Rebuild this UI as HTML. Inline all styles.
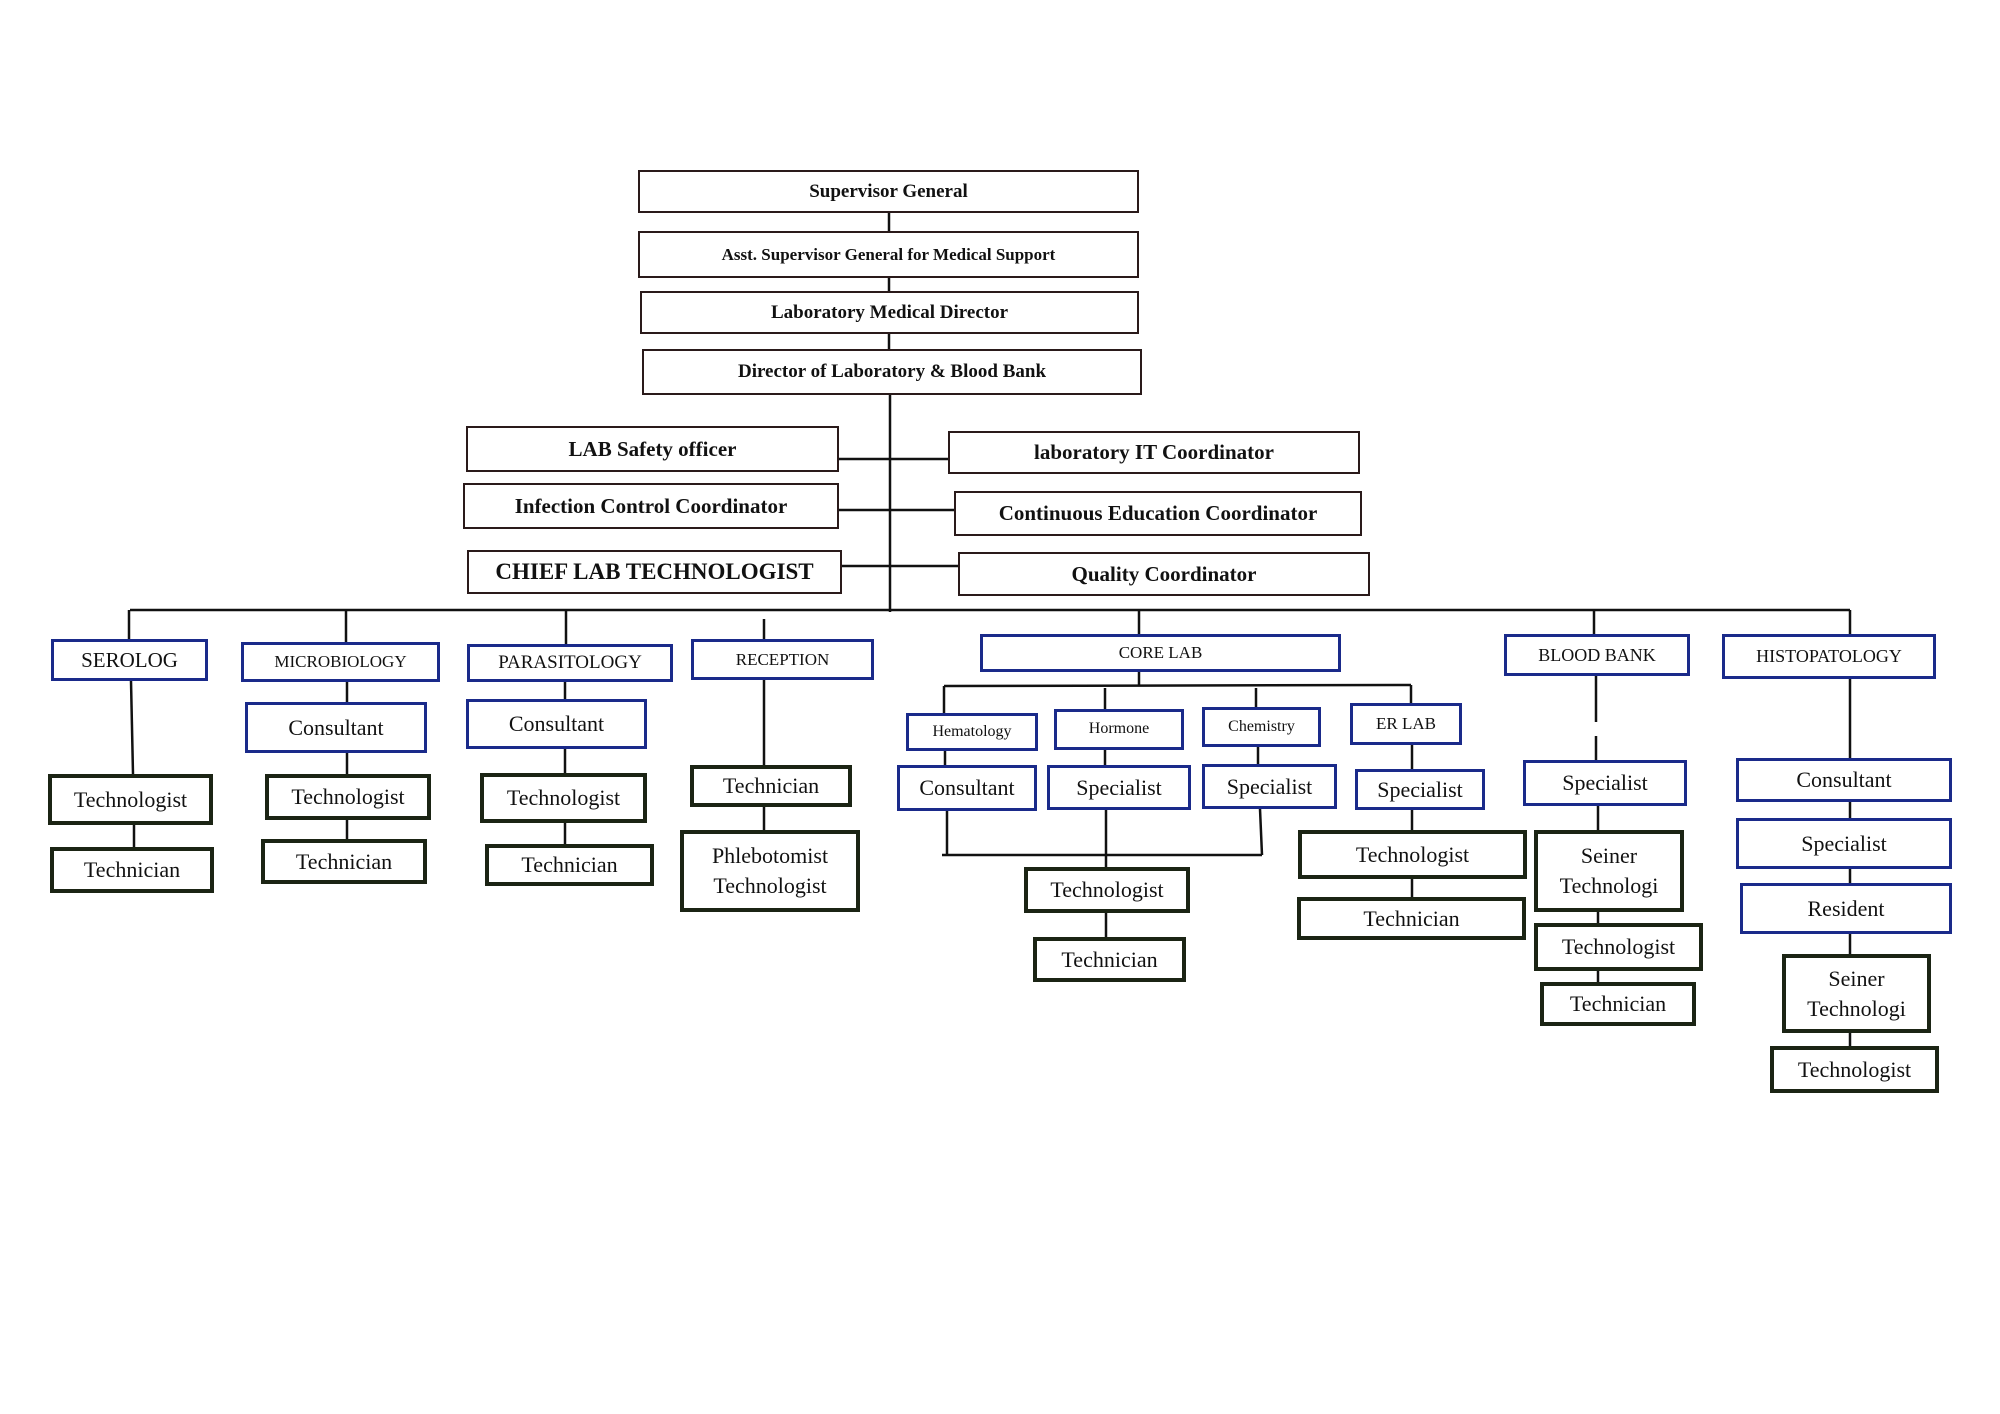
<!DOCTYPE html>
<html><head><meta charset="utf-8"><style>
html,body{margin:0;padding:0;background:#fff;}
#c{position:relative;width:2000px;height:1414px;overflow:hidden;background:#fff;font-family:"Liberation Serif",serif;}
.b{position:absolute;box-sizing:border-box;display:flex;align-items:center;justify-content:center;text-align:center;color:#111;background:#fff;line-height:1.15;}
.t{border:2.5px solid #2a1a1a;font-weight:bold;font-size:19px;}
.m{border:2.5px solid #2a1a1a;font-weight:bold;font-size:21px;}
.d{border:3.5px solid #1a2a8a;font-size:19px;}
.u{border:3.5px solid #1a2a8a;font-size:22px;}
.g{border:4px solid #1b2414;font-size:22px;}
svg{position:absolute;left:0;top:0;}
</style></head><body><div id="c">
<svg width="2000" height="1414"><g stroke="#111" stroke-width="2.5" fill="none">
<line x1="889" y1="213" x2="889" y2="231"/>
<line x1="889" y1="278" x2="889" y2="291"/>
<line x1="889" y1="334" x2="889" y2="349"/>
<line x1="890" y1="395" x2="890" y2="612"/>
<line x1="839" y1="459" x2="948" y2="459"/>
<line x1="839" y1="510" x2="954" y2="510"/>
<line x1="842" y1="566" x2="958" y2="566"/>
<line x1="130" y1="610" x2="1850" y2="610"/>
<line x1="129" y1="610" x2="129" y2="639"/>
<line x1="346" y1="610" x2="346" y2="642"/>
<line x1="566" y1="610" x2="566" y2="644"/>
<line x1="764" y1="619" x2="764" y2="639"/>
<line x1="1139" y1="610" x2="1139" y2="634"/>
<line x1="1594" y1="610" x2="1594" y2="634"/>
<line x1="1850" y1="610" x2="1850" y2="634"/>
<line x1="131" y1="681" x2="133" y2="774"/>
<line x1="134" y1="825" x2="134" y2="847"/>
<line x1="347" y1="682" x2="347" y2="702"/>
<line x1="347" y1="753" x2="347" y2="774"/>
<line x1="347" y1="820" x2="347" y2="839"/>
<line x1="565" y1="682" x2="565" y2="699"/>
<line x1="565" y1="749" x2="565" y2="773"/>
<line x1="565" y1="823" x2="565" y2="844"/>
<line x1="764" y1="680" x2="764" y2="765"/>
<line x1="764" y1="807" x2="764" y2="830"/>
<line x1="1139" y1="672" x2="1139" y2="685"/>
<line x1="944" y1="686" x2="1411" y2="685"/>
<line x1="944" y1="686" x2="944" y2="713"/>
<line x1="1105" y1="688" x2="1105" y2="709"/>
<line x1="1256" y1="688" x2="1256" y2="707"/>
<line x1="1411" y1="685" x2="1411" y2="703"/>
<line x1="945" y1="751" x2="945" y2="765"/>
<line x1="1105" y1="750" x2="1105" y2="765"/>
<line x1="1258" y1="747" x2="1258" y2="764"/>
<line x1="1412" y1="745" x2="1412" y2="769"/>
<line x1="947" y1="811" x2="947" y2="855"/>
<line x1="942" y1="855" x2="1262" y2="855"/>
<line x1="1260" y1="809" x2="1262" y2="855"/>
<line x1="1106" y1="810" x2="1106" y2="867"/>
<line x1="1106" y1="913" x2="1106" y2="937"/>
<line x1="1412" y1="810" x2="1412" y2="830"/>
<line x1="1412" y1="879" x2="1412" y2="897"/>
<line x1="1596" y1="676" x2="1596" y2="722"/>
<line x1="1596" y1="736" x2="1596" y2="760"/>
<line x1="1598" y1="806" x2="1598" y2="830"/>
<line x1="1598" y1="912" x2="1598" y2="923"/>
<line x1="1598" y1="971" x2="1598" y2="982"/>
<line x1="1850" y1="679" x2="1850" y2="758"/>
<line x1="1850" y1="802" x2="1850" y2="818"/>
<line x1="1850" y1="869" x2="1850" y2="883"/>
<line x1="1850" y1="934" x2="1850" y2="954"/>
<line x1="1850" y1="1033" x2="1850" y2="1046"/>
</g></svg>
<div class="b t" style="left:638px;top:170px;width:501px;height:43px;">Supervisor General</div>
<div class="b t" style="left:638px;top:231px;width:501px;height:47px;font-size:17px;">Asst. Supervisor General for Medical Support</div>
<div class="b t" style="left:640px;top:291px;width:499px;height:43px;">Laboratory Medical Director</div>
<div class="b t" style="left:642px;top:349px;width:500px;height:46px;">Director of Laboratory &amp; Blood Bank</div>
<div class="b m" style="left:466px;top:426px;width:373px;height:46px;">LAB Safety officer</div>
<div class="b m" style="left:463px;top:483px;width:376px;height:46px;">Infection Control Coordinator</div>
<div class="b m" style="left:467px;top:550px;width:375px;height:44px;font-size:23px;">CHIEF LAB TECHNOLOGIST</div>
<div class="b m" style="left:948px;top:431px;width:412px;height:43px;">laboratory IT Coordinator</div>
<div class="b m" style="left:954px;top:491px;width:408px;height:45px;">Continuous Education Coordinator</div>
<div class="b m" style="left:958px;top:552px;width:412px;height:44px;">Quality Coordinator</div>

<div class="b d" style="left:51px;top:639px;width:157px;height:42px;font-size:21px;">SEROLOG</div>
<div class="b d" style="left:241px;top:642px;width:199px;height:40px;font-size:17px;">MICROBIOLOGY</div>
<div class="b d" style="left:467px;top:644px;width:206px;height:38px;">PARASITOLOGY</div>
<div class="b d" style="left:691px;top:639px;width:183px;height:41px;font-size:17px;">RECEPTION</div>
<div class="b d" style="left:980px;top:634px;width:361px;height:38px;font-size:17px;">CORE LAB</div>
<div class="b d" style="left:1504px;top:634px;width:186px;height:42px;font-size:18px;">BLOOD BANK</div>
<div class="b d" style="left:1722px;top:634px;width:214px;height:45px;font-size:18px;">HISTOPATOLOGY</div>

<div class="b g" style="left:48px;top:774px;width:165px;height:51px;">Technologist</div>
<div class="b g" style="left:50px;top:847px;width:164px;height:46px;">Technician</div>
<div class="b u" style="left:245px;top:702px;width:182px;height:51px;">Consultant</div>
<div class="b g" style="left:265px;top:774px;width:166px;height:46px;">Technologist</div>
<div class="b g" style="left:261px;top:839px;width:166px;height:45px;">Technician</div>
<div class="b u" style="left:466px;top:699px;width:181px;height:50px;">Consultant</div>
<div class="b g" style="left:480px;top:773px;width:167px;height:50px;">Technologist</div>
<div class="b g" style="left:485px;top:844px;width:169px;height:42px;">Technician</div>
<div class="b g" style="left:690px;top:765px;width:162px;height:42px;">Technician</div>
<div class="b g" style="left:680px;top:830px;width:180px;height:82px;line-height:1.35;">Phlebotomist<br>Technologist</div>

<div class="b d" style="left:906px;top:713px;width:132px;height:38px;font-size:16px;">Hematology</div>
<div class="b u" style="left:897px;top:765px;width:140px;height:46px;">Consultant</div>
<div class="b d" style="left:1054px;top:709px;width:130px;height:41px;font-size:16px;">Hormone</div>
<div class="b u" style="left:1047px;top:765px;width:144px;height:45px;">Specialist</div>
<div class="b d" style="left:1202px;top:707px;width:119px;height:40px;font-size:16px;">Chemistry</div>
<div class="b u" style="left:1202px;top:764px;width:135px;height:45px;">Specialist</div>
<div class="b d" style="left:1350px;top:703px;width:112px;height:42px;font-size:17px;">ER LAB</div>
<div class="b u" style="left:1355px;top:769px;width:130px;height:41px;">Specialist</div>
<div class="b g" style="left:1024px;top:867px;width:166px;height:46px;">Technologist</div>
<div class="b g" style="left:1033px;top:937px;width:153px;height:45px;">Technician</div>
<div class="b g" style="left:1298px;top:830px;width:229px;height:49px;">Technologist</div>
<div class="b g" style="left:1297px;top:897px;width:229px;height:43px;">Technician</div>

<div class="b u" style="left:1523px;top:760px;width:164px;height:46px;">Specialist</div>
<div class="b g" style="left:1534px;top:830px;width:150px;height:82px;line-height:1.35;">Seiner<br>Technologi</div>
<div class="b g" style="left:1534px;top:923px;width:169px;height:48px;">Technologist</div>
<div class="b g" style="left:1540px;top:982px;width:156px;height:44px;">Technician</div>

<div class="b u" style="left:1736px;top:758px;width:216px;height:44px;">Consultant</div>
<div class="b u" style="left:1736px;top:818px;width:216px;height:51px;">Specialist</div>
<div class="b u" style="left:1740px;top:883px;width:212px;height:51px;">Resident</div>
<div class="b g" style="left:1782px;top:954px;width:149px;height:79px;line-height:1.35;">Seiner<br>Technologi</div>
<div class="b g" style="left:1770px;top:1046px;width:169px;height:47px;">Technologist</div>
</div></body></html>
